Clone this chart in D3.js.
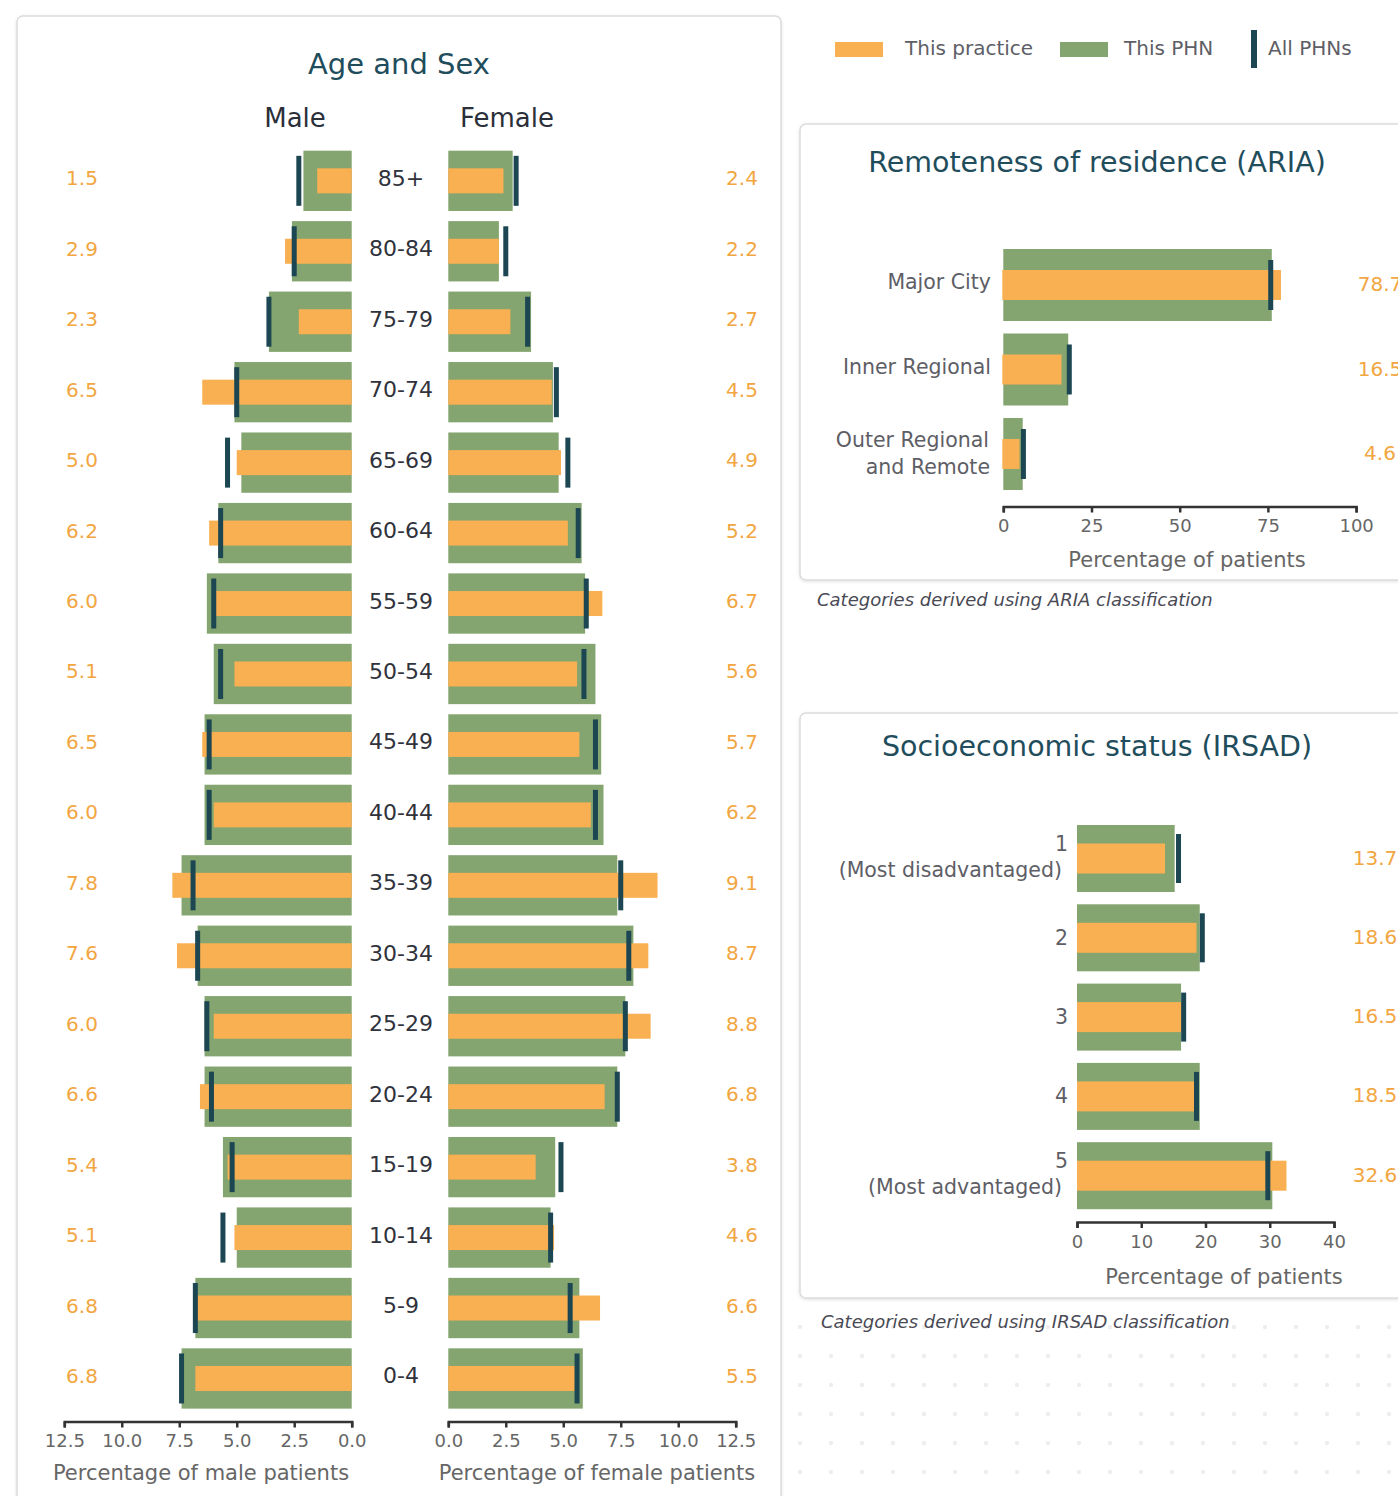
<!DOCTYPE html>
<html><head><meta charset="utf-8">
<script src="https://cdn.jsdelivr.net/npm/d3@7"></script>
<style>body{margin:0;background:#fff;}svg{display:block;}</style>
</head><body>
<script>
// ---------- DATA ----------
const ages = ["85+","80-84","75-79","70-74","65-69","60-64","55-59","50-54","45-49","40-44","35-39","30-34","25-29","20-24","15-19","10-14","5-9","0-4"];
const malePractice = [1.5,2.9,2.3,6.5,5.0,6.2,6.0,5.1,6.5,6.0,7.8,7.6,6.0,6.6,5.4,5.1,6.8,6.8];
const malePHN      = [2.1,2.6,3.6,5.1,4.8,5.8,6.3,6.0,6.4,6.4,7.4,6.7,6.4,6.4,5.6,5.0,6.8,7.4];
const maleAll      = [2.3,2.5,3.6,5.0,5.4,5.7,6.0,5.7,6.2,6.2,6.9,6.7,6.3,6.1,5.2,5.6,6.8,7.4];
const femalePractice = [2.4,2.2,2.7,4.5,4.9,5.2,6.7,5.6,5.7,6.2,9.1,8.7,8.8,6.8,3.8,4.6,6.6,5.5];
const femalePHN      = [2.8,2.2,3.6,4.55,4.8,5.8,5.95,6.4,6.65,6.75,7.35,8.05,7.7,7.35,4.65,4.45,5.7,5.85];
const femaleAll      = [2.95,2.5,3.45,4.7,5.2,5.65,6.0,5.9,6.4,6.4,7.5,7.85,7.7,7.35,4.9,4.45,5.3,5.6];
const ageTicks = [0,2.5,5,7.5,10,12.5];

const ariaCats = ["Major City","Inner Regional","Outer Regional and Remote"];
const ariaLabelLines = [["Major City"],["Inner Regional"],["Outer Regional","and Remote"]];
const ariaPractice = [78.7,16.5,4.6];
const ariaPHN      = [76.1,18.4,5.5];
const ariaAll      = [75.8,18.7,5.7];
const ariaTicks = [0,25,50,75,100];

const irsadCats = ["1","2","3","4","5"];
const irsadSub  = ["(Most disadvantaged)","","","","(Most advantaged)"];
const irsadPractice = [13.7,18.6,16.5,18.5,32.6];
const irsadPHN      = [15.2,19.1,16.2,19.1,30.4];
const irsadAll      = [15.8,19.5,16.6,18.6,29.7];
const irsadTicks = [0,10,20,30,40];

const legendItems = ["This practice","This PHN","All PHNs"];

// ---------- STYLE ----------
const FONT = "'DejaVu Sans', 'Open Sans', sans-serif";
const ORANGE = "#F8B052", GREEN = "#84A570", LINE = "#1C4652";
const VALTXT = "#F2A641", TITLE = "#1F4D5C", DARK = "#2B2F3A", GREY = "#5E5E66";

const svg = d3.select("body").append("svg").attr("width",1398).attr("height",1496)
  .style("font-family",FONT);

const defs = svg.append("defs");
const pat = defs.append("pattern").attr("id","dots").attr("patternUnits","userSpaceOnUse")
  .attr("x",798).attr("y",1325).attr("width",31).attr("height",29);
pat.append("circle").attr("cx",2).attr("cy",2).attr("r",2.2).attr("fill","#eeeeee");
const sh = defs.append("filter").attr("id","shadow").attr("x","-5%").attr("y","-5%").attr("width","110%").attr("height","110%");
sh.append("feDropShadow").attr("dx",0).attr("dy",1).attr("stdDeviation",1.5).attr("flood-color","#000").attr("flood-opacity",0.12);

svg.append("rect").attr("x",790).attr("y",1312).attr("width",608).attr("height",184).attr("fill","url(#dots)");

function panel(x,y,w,h){
  svg.append("rect").attr("x",x).attr("y",y).attr("width",w).attr("height",h).attr("rx",6)
    .attr("fill","#fff").attr("stroke","#dcdcdc").attr("stroke-width",1.5).attr("filter","url(#shadow)");
}
panel(17,16,764,1520);
panel(800,124,640,456);
panel(800,713,640,585);

function txt(x,y,s,opts={}){
  const t = svg.append("text").attr("x",x).attr("y",y).text(s)
    .attr("dominant-baseline","central")
    .attr("text-anchor",opts.anchor||"middle")
    .attr("font-size",opts.size||20)
    .attr("fill",opts.fill||DARK);
  if(opts.weight) t.attr("font-weight",opts.weight);
  if(opts.italic) t.attr("font-style","italic");
  return t;
}

function styleAxis(g){
  g.attr("font-family",FONT).attr("font-size",18);
  g.select(".domain").attr("stroke","#333").attr("stroke-width",2.5);
  g.selectAll(".tick line").attr("stroke","#333").attr("stroke-width",2.5);
  g.selectAll(".tick text").attr("fill","#666").attr("y",13);
}

// ---------- AGE AND SEX ----------
txt(399,64,"Age and Sex",{size:29,fill:TITLE});
txt(295,118,"Male",{size:26});
txt(507,118,"Female",{size:26});

const yAge = d3.scaleBand().domain(ages).range([145.6,1413.7]).paddingInner(0.144).paddingOuter(0.072);
const xM = d3.scaleLinear().domain([0,12.5]).range([351.7,64.3]);
const xF = d3.scaleLinear().domain([0,12.5]).range([448.3,735.7]);
const bw = yAge.bandwidth();
const oh = 25, lh = 50, lw = 5;

const rows = ages.map((a,i)=>({a,i}));
svg.append("g").selectAll("rect").data(rows).join("rect")
  .attr("x",d=>xM(malePHN[d.i])).attr("width",d=>xM(0)-xM(malePHN[d.i]))
  .attr("y",d=>yAge(d.a)).attr("height",bw).attr("fill",GREEN);
svg.append("g").selectAll("rect").data(rows).join("rect")
  .attr("x",d=>xM(malePractice[d.i])).attr("width",d=>xM(0)-xM(malePractice[d.i]))
  .attr("y",d=>yAge(d.a)+bw/2-oh/2).attr("height",oh).attr("fill",ORANGE);
svg.append("g").selectAll("rect").data(rows).join("rect")
  .attr("x",d=>xM(maleAll[d.i])-lw/2).attr("width",lw)
  .attr("y",d=>yAge(d.a)+bw/2-lh/2).attr("height",lh).attr("fill",LINE);
svg.append("g").selectAll("rect").data(rows).join("rect")
  .attr("x",xF(0)).attr("width",d=>xF(femalePHN[d.i])-xF(0))
  .attr("y",d=>yAge(d.a)).attr("height",bw).attr("fill",GREEN);
svg.append("g").selectAll("rect").data(rows).join("rect")
  .attr("x",xF(0)).attr("width",d=>xF(femalePractice[d.i])-xF(0))
  .attr("y",d=>yAge(d.a)+bw/2-oh/2).attr("height",oh).attr("fill",ORANGE);
svg.append("g").selectAll("rect").data(rows).join("rect")
  .attr("x",d=>xF(femaleAll[d.i])-lw/2).attr("width",lw)
  .attr("y",d=>yAge(d.a)+bw/2-lh/2).attr("height",lh).attr("fill",LINE);

rows.forEach(d=>{
  const cy = yAge(d.a)+bw/2-2.5;
  txt(401,cy,d.a,{size:22,fill:"#30323c"});
  txt(82,cy,malePractice[d.i].toFixed(1),{size:20,fill:VALTXT});
  txt(742,cy,femalePractice[d.i].toFixed(1),{size:20,fill:VALTXT});
});

const gM = svg.append("g").attr("transform","translate(0,1421.5)")
  .call(d3.axisBottom(xM).tickValues(ageTicks).tickFormat(d3.format(".1f")).tickSize(6).tickSizeOuter(6));
styleAxis(gM);
const gF = svg.append("g").attr("transform","translate(0,1421.5)")
  .call(d3.axisBottom(xF).tickValues(ageTicks).tickFormat(d3.format(".1f")).tickSize(6).tickSizeOuter(6));
styleAxis(gF);
txt(201,1473,"Percentage of male patients",{size:21,fill:"#666"});
txt(597,1473,"Percentage of female patients",{size:21,fill:"#666"});

// ---------- LEGEND ----------
svg.append("rect").attr("x",835).attr("y",42).attr("width",48).attr("height",15).attr("fill",ORANGE);
txt(905,48,legendItems[0],{anchor:"start",size:20,fill:GREY});
svg.append("rect").attr("x",1060).attr("y",42).attr("width",48).attr("height",15).attr("fill",GREEN);
txt(1124,48,legendItems[1],{anchor:"start",size:20,fill:GREY});
svg.append("rect").attr("x",1251).attr("y",30).attr("width",6).attr("height",38).attr("fill",LINE);
txt(1268,48,legendItems[2],{anchor:"start",size:20,fill:GREY});

// ---------- ARIA ----------
txt(1097,162,"Remoteness of residence (ARIA)",{size:28.5,fill:TITLE});
const yA = d3.scaleBand().domain(ariaCats).range([242.75,496.25]).paddingInner(0.148).paddingOuter(0.074);
const xA = d3.scaleLinear().domain([0,100]).range([1003.3,1356.1]);
const abw = yA.bandwidth();
const aRows = ariaCats.map((c,i)=>({c,i}));
svg.append("g").selectAll("rect").data(aRows).join("rect")
  .attr("x",xA(0)).attr("width",d=>xA(ariaPHN[d.i])-xA(0))
  .attr("y",d=>yA(d.c)).attr("height",abw).attr("fill",GREEN);
svg.append("g").selectAll("rect").data(aRows).join("rect")
  .attr("x",xA(0)-1).attr("width",d=>xA(ariaPractice[d.i])-xA(0)+1)
  .attr("y",d=>yA(d.c)+abw/2-15).attr("height",30).attr("fill",ORANGE);
svg.append("g").selectAll("rect").data(aRows).join("rect")
  .attr("x",d=>xA(ariaAll[d.i])-2.5).attr("width",5)
  .attr("y",d=>yA(d.c)+abw/2-25).attr("height",50).attr("fill",LINE);
aRows.forEach(d=>{
  const cy = yA(d.c)+abw/2;
  const lines = ariaLabelLines[d.i];
  if(lines.length===1) txt(991,cy-3,lines[0],{anchor:"end",size:20.5,fill:GREY});
  else { txt(989,cy-14,lines[0],{anchor:"end",size:20.5,fill:GREY}); txt(990,cy+13,lines[1],{anchor:"end",size:20.5,fill:GREY}); }
  txt(1380,cy-1,ariaPractice[d.i].toFixed(1),{size:20,fill:VALTXT});
});
const gA = svg.append("g").attr("transform","translate(0,506.5)")
  .call(d3.axisBottom(xA).tickValues(ariaTicks).tickSize(6).tickSizeOuter(6));
styleAxis(gA);
txt(1187,560,"Percentage of patients",{size:21,fill:"#666"});
txt(817,599,"Categories derived using ARIA classification",{anchor:"start",size:18,fill:"#4a4a55",italic:true});

// ---------- IRSAD ----------
txt(1097,746,"Socioeconomic status (IRSAD)",{size:28.5,fill:TITLE});
const yI = d3.scaleBand().domain(irsadCats).range([818.85,1215.35]).paddingInner(0.155).paddingOuter(0.0775);
const xI = d3.scaleLinear().domain([0,40]).range([1077,1334]);
const ibw = yI.bandwidth();
const iRows = irsadCats.map((c,i)=>({c,i}));
svg.append("g").selectAll("rect").data(iRows).join("rect")
  .attr("x",xI(0)).attr("width",d=>xI(irsadPHN[d.i])-xI(0))
  .attr("y",d=>yI(d.c)).attr("height",ibw).attr("fill",GREEN);
svg.append("g").selectAll("rect").data(iRows).join("rect")
  .attr("x",xI(0)).attr("width",d=>xI(irsadPractice[d.i])-xI(0))
  .attr("y",d=>yI(d.c)+ibw/2-15).attr("height",30).attr("fill",ORANGE);
svg.append("g").selectAll("rect").data(iRows).join("rect")
  .attr("x",d=>xI(irsadAll[d.i])-2.5).attr("width",5)
  .attr("y",d=>yI(d.c)+ibw/2-24.5).attr("height",49).attr("fill",LINE);
iRows.forEach(d=>{
  const cy = yI(d.c)+ibw/2;
  if(irsadSub[d.i]){
    txt(1068,cy-15,d.c,{anchor:"end",size:20.5,fill:GREY});
    txt(1062,cy+11,irsadSub[d.i],{anchor:"end",size:20.5,fill:GREY});
  } else txt(1068,cy,d.c,{anchor:"end",size:20.5,fill:GREY});
  txt(1375,cy-1,irsadPractice[d.i].toFixed(1),{size:20,fill:VALTXT});
});
const gI = svg.append("g").attr("transform","translate(0,1222)")
  .call(d3.axisBottom(xI).tickValues(irsadTicks).tickSize(6).tickSizeOuter(6));
styleAxis(gI);
txt(1224,1277,"Percentage of patients",{size:21,fill:"#666"});
txt(821,1321,"Categories derived using IRSAD classification",{anchor:"start",size:18,fill:"#4a4a55",italic:true});
</script>
</body></html>
